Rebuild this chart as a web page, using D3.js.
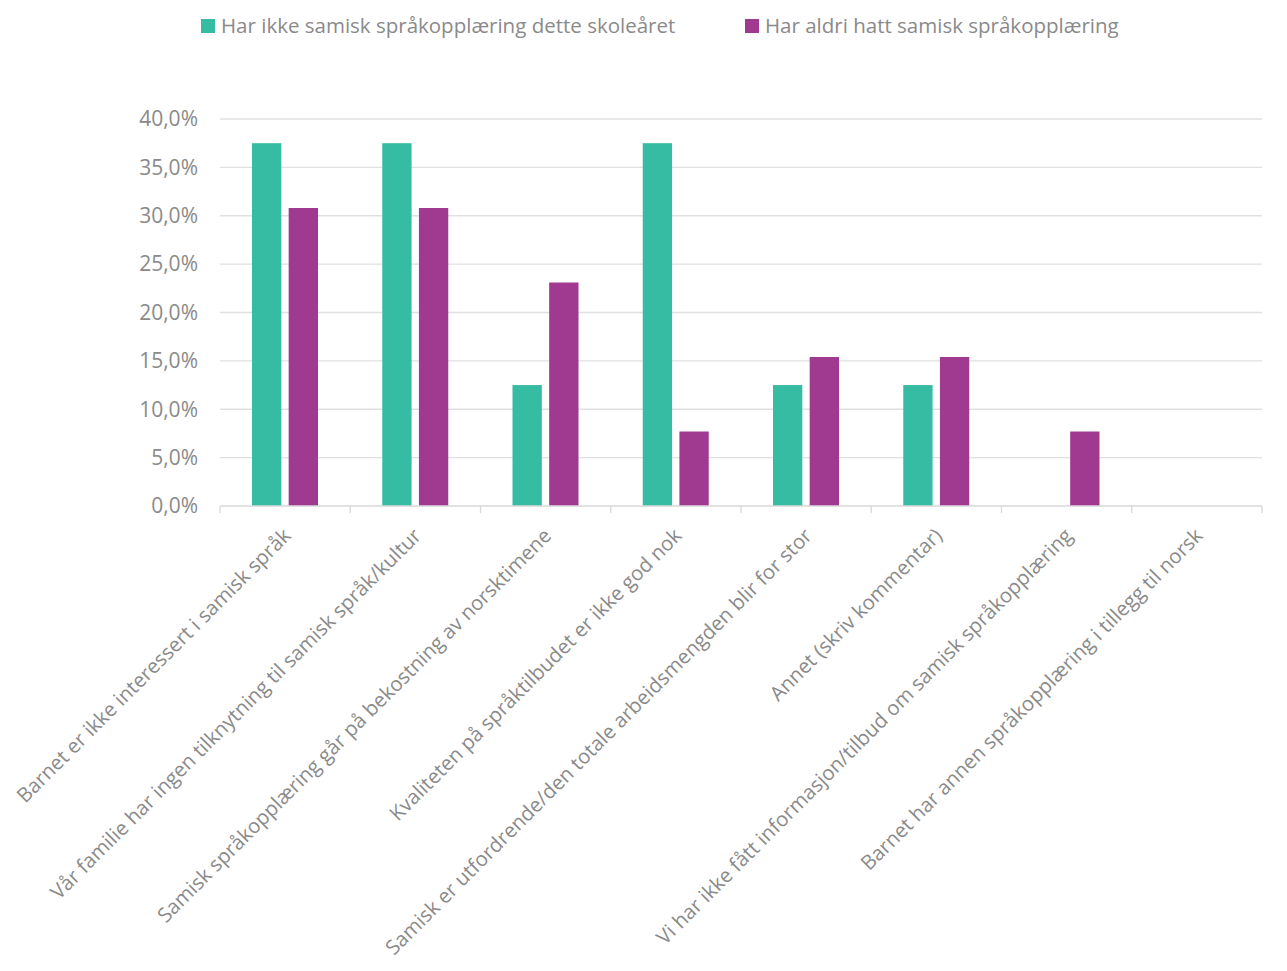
<!DOCTYPE html>
<html lang="en">
<head>
<meta charset="UTF-8">
<title>Samisk språkopplæring</title>
<style>
  body { margin: 0; background: #fff; }
  text { font-family: "Open Sans", "Noto Sans", sans-serif; fill: #8a8a8a; }
</style>
</head>
<body>
<div id="chart"></div>
<script src="https://d3js.org/d3.v7.min.js"></script>
<script>
  // categories and series
  const categories = [
    "Barnet er ikke interessert i samisk språk",
    "Vår familie har ingen tilknytning til samisk språk/kultur",
    "Samisk språkopplæring går på bekostning av norsktimene",
    "Kvaliteten på språktilbudet er ikke god nok",
    "Samisk er utfordrende/den totale arbeidsmengden blir for stor",
    "Annet (skriv kommentar)",
    "Vi har ikke fått informasjon/tilbud om samisk språkopplæring",
    "Barnet har annen språkopplæring i tillegg til norsk"
  ];
  const seriesNames = ["Har ikke samisk språkopplæring dette skoleåret", "Har aldri hatt samisk språkopplæring"];
  const ikkeDetteAaret = [37.5, 37.5, 12.5, 37.5, 12.5, 12.5, 0, 0];
  const aldriHatt = [30.8, 30.8, 23.1, 7.7, 15.4, 15.4, 7.7, 0];
  const yTicks = [0, 5, 10, 15, 20, 25, 30, 35, 40];
  const colors = ["#36bca2", "#a03a91"];

  const W = 1287, H = 971;
  const margin = { top: 119, right: 25, bottom: 465, left: 220 };
  const width = W - margin.left - margin.right;
  const height = H - margin.top - margin.bottom;

  const svg = d3.select("#chart").append("svg")
    .attr("width", W)
    .attr("height", H);

  const g = svg.append("g")
    .attr("transform", `translate(${margin.left},${margin.top})`);

  const x = d3.scaleBand().domain(categories).range([0, width]).paddingInner(0).paddingOuter(0);
  const xs = d3.scaleBand().domain([0, 1]).range([32, 98]).paddingInner(0.2);
  const y = d3.scaleLinear().domain([0, 40]).range([height, 0]);

  const fmt = v => v.toFixed(1).replace(".", ",") + "%";

  // gridlines
  g.selectAll(".grid").data(yTicks.slice(1)).enter().append("line")
    .attr("x1", 0).attr("x2", width)
    .attr("y1", d => y(d)).attr("y2", d => y(d))
    .attr("stroke", "#e0e0e0").attr("stroke-width", 1.3);

  // y labels
  g.selectAll(".ylab").data(yTicks).enter().append("text")
    .attr("x", -22).attr("y", d => y(d))
    .attr("dy", "0.35em")
    .attr("text-anchor", "end")
    .style("font-size", "21px")
    .text(fmt);

  // bars
  const data = categories.map((c, i) => ({ c, vals: [ikkeDetteAaret[i], aldriHatt[i]] }));
  const grp = g.selectAll(".cat").data(data).enter().append("g")
    .attr("transform", d => `translate(${x(d.c)},0)`);
  grp.selectAll("rect").data(d => d.vals).enter().append("rect")
    .attr("x", (d, i) => xs(i))
    .attr("width", xs.bandwidth())
    .attr("y", d => y(d))
    .attr("height", d => height - y(d))
    .attr("fill", (d, i) => colors[i]);

  // x axis
  const xAxis = g.append("g").attr("transform", `translate(0,${height})`);
  xAxis.append("line").attr("x1", 0).attr("x2", width)
    .attr("stroke", "#d9d9d9").attr("stroke-width", 1.3);
  xAxis.selectAll(".tick").data(d3.range(categories.length + 1)).enter().append("line")
    .attr("x1", i => i * x.step()).attr("x2", i => i * x.step())
    .attr("y1", 0).attr("y2", 7)
    .attr("stroke", "#d9d9d9").attr("stroke-width", 1.3);

  xAxis.selectAll(".xlab").data(categories).enter().append("text")
    .attr("transform", d => `translate(${x(d) + x.bandwidth() / 2 + 2},${26}) rotate(-45)`)
    .attr("text-anchor", "end")
    .attr("dy", "0.35em")
    .style("font-size", "20.3px")
    .text(d => d);

  // legend
  const legendX = [201, 745];
  const legend = svg.selectAll(".leg").data(seriesNames).enter().append("g")
    .attr("transform", (d, i) => `translate(${legendX[i]},19)`);
  legend.append("rect").attr("width", 14).attr("height", 14).attr("fill", (d, i) => colors[i]);
  legend.append("text").attr("x", 20).attr("y", 7).attr("dy", "0.35em")
    .style("font-size", "20.5px")
    .text(d => d);
</script>
</body>
</html>
